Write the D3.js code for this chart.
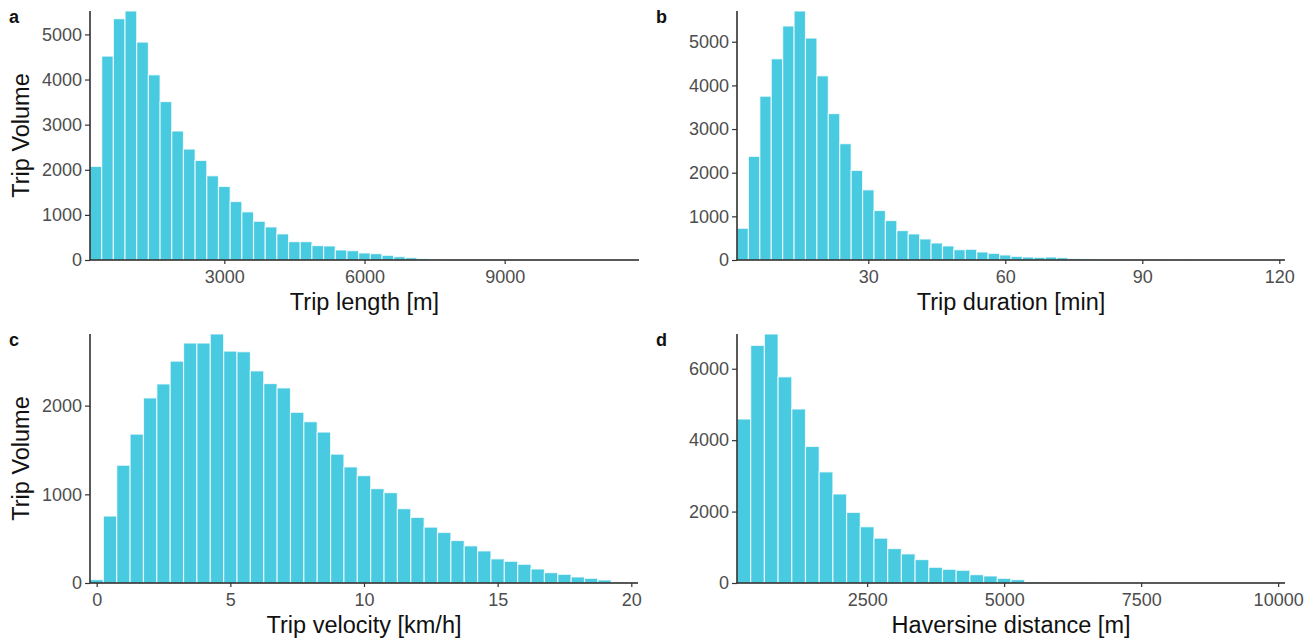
<!DOCTYPE html>
<html lang="en">
<head>
    <meta charset="UTF-8">
    <title>Trip distributions</title>
    <script src="https://d3js.org/d3.v7.min.js"></script>
    <style>
        body { margin: 0; background: #fff; font-family: "Liberation Sans", Arial, Helvetica, sans-serif; }
        svg { display: block; overflow: hidden; }
        .tick text { fill: #4d4d4d; font-size: 18px; font-family: "Liberation Sans", Arial, sans-serif; }
        .tick line { stroke: #333; stroke-width: 1.2px; }
        .domain { stroke: #222; stroke-width: 1.5px; }
        .bar { fill: #48cae0; stroke: #ffffff; stroke-width: 1.2px; stroke-opacity: 0.75; }
        .axis-title { font-size: 23.5px; fill: #111; }
        .panel-label { font-size: 18px; font-weight: bold; fill: #111; }
    </style>
</head>
<body>
<div id="chart"></div>
<script>
    // bin counts, one value per bin
    const lengthCounts = [2074, 4519, 5348, 5519, 4830, 4104, 3511, 2859, 2459, 2207,
        1867, 1630, 1296, 1067, 859, 733, 578, 407, 407, 319,
        311, 222, 207, 156, 141, 104, 74, 52, 30, 20,
        15, 12, 9, 7, 6, 5, 4, 3, 3, 2, 2, 2, 1, 1, 1, 1, 1];
    const durationCounts = [727, 2374, 3752, 4609, 5360, 5704, 5084, 4219, 3354, 2665,
        2052, 1608, 1133, 904, 674, 597, 482, 390, 322, 237,
        245, 184, 153, 115, 84, 69, 61, 69, 54, 32,
        26, 20, 15, 11, 8, 6, 5, 10, 4, 8, 3, 2, 2, 2, 1, 1, 1, 1];
    const velocityCounts = [38, 755, 1328, 1679, 2087, 2245, 2502, 2706, 2706, 2808,
        2615, 2608, 2392, 2249, 2200, 1925, 1819, 1702, 1453, 1309,
        1211, 1064, 1019, 838, 740, 630, 570, 479, 419, 362,
        272, 245, 211, 158, 117, 98, 68, 53, 34, 11, 3];
    const haversineCounts = [4592, 6654, 6973, 5773, 4873, 3824, 3112, 2493, 1978, 1575,
        1256, 965, 815, 656, 440, 384, 356, 234, 197, 131,
        94, 28, 19, 12, 8, 6, 4, 3, 3, 2, 2, 1, 1, 1, 1, 1, 1, 1, 1, 1];

    // bin layout: first bin left edge and bin width, in data units
    const lengthBins = { start: 125, width: 250 };
    const durationBins = { start: 1.25, width: 2.5 };
    const velocityBins = { start: -0.25, width: 0.5 };
    const haversineBins = { start: 125, width: 250 };

    // tick labels
    const lengthTicks = [3000, 6000, 9000];
    const durationTicks = [30, 60, 90, 120];
    const velocityTicks = [0, 5, 10, 15, 20];
    const haversineTicks = [2500, 5000, 7500, 10000];
    const countTicksA = [0, 1000, 2000, 3000, 4000, 5000];
    const countTicksB = [0, 1000, 2000, 3000, 4000, 5000];
    const countTicksC = [0, 1000, 2000];
    const countTicksD = [0, 2000, 4000, 6000];

    const fmt = d3.format("d");

    const svg = d3.select("#chart").append("svg")
        .attr("width", 1308)
        .attr("height", 640);

    const panels = [
        { label: "a", counts: lengthCounts, bins: lengthBins, xTicks: lengthTicks, yTicks: countTicksA,
          xTitle: "Trip length [m]", yTitle: "Trip Volume", left: 90, top: 11, right: 639, bottom: 260 },
        { label: "b", counts: durationCounts, bins: durationBins, xTicks: durationTicks, yTicks: countTicksB,
          xTitle: "Trip duration [min]", yTitle: null, left: 737, top: 11, right: 1285, bottom: 260 },
        { label: "c", counts: velocityCounts, bins: velocityBins, xTicks: velocityTicks, yTicks: countTicksC,
          xTitle: "Trip velocity [km/h]", yTitle: "Trip Volume", left: 90, top: 334, right: 638, bottom: 583 },
        { label: "d", counts: haversineCounts, bins: haversineBins, xTicks: haversineTicks, yTicks: countTicksD,
          xTitle: "Haversine distance [m]", yTitle: null, left: 737, top: 334, right: 1285, bottom: 583 }
    ];

    panels.forEach(drawPanel);

    function drawPanel(p) {
        const data = p.counts.map((c, i) => ({
            x0: p.bins.start + i * p.bins.width,
            x1: p.bins.start + (i + 1) * p.bins.width,
            count: c
        }));

        const x = d3.scaleLinear()
            .domain([data[0].x0, data[data.length - 1].x1])
            .range([p.left, p.right]);
        const y = d3.scaleLinear()
            .domain([0, d3.max(p.counts)])
            .range([p.bottom, p.top]);

        const g = svg.append("g");

        g.selectAll("rect.bar")
            .data(data)
            .enter().append("rect")
            .attr("class", "bar")
            .attr("x", d => x(d.x0))
            .attr("width", d => Math.max(0, x(d.x1) - x(d.x0)))
            .attr("y", d => y(d.count))
            .attr("height", d => p.bottom - y(d.count));

        g.append("g")
            .attr("transform", `translate(0,${p.bottom})`)
            .call(d3.axisBottom(x).tickValues(p.xTicks).tickFormat(fmt).tickSize(4).tickPadding(6).tickSizeOuter(0))
            .call(a => a.select(".domain").attr("d", `M${p.left},0H${p.right}`));

        g.append("g")
            .attr("transform", `translate(${p.left},0)`)
            .call(d3.axisLeft(y).tickValues(p.yTicks).tickFormat(fmt).tickSize(5).tickPadding(3).tickSizeOuter(0))
            .call(a => a.select(".domain").attr("d", `M0,${p.top}V${p.bottom}`));

        g.append("text")
            .attr("class", "axis-title")
            .attr("x", (p.left + p.right) / 2)
            .attr("y", p.bottom + 50)
            .attr("text-anchor", "middle")
            .text(p.xTitle);

        if (p.yTitle) {
            g.append("text")
                .attr("class", "axis-title")
                .attr("transform", `translate(29,${(p.top + p.bottom) / 2}) rotate(-90)`)
                .attr("text-anchor", "middle")
                .text(p.yTitle);
        }

        g.append("text")
            .attr("class", "panel-label")
            .attr("x", p.left - 81)
            .attr("y", p.top + 12)
            .text(p.label);
    }
</script>
</body>
</html>
